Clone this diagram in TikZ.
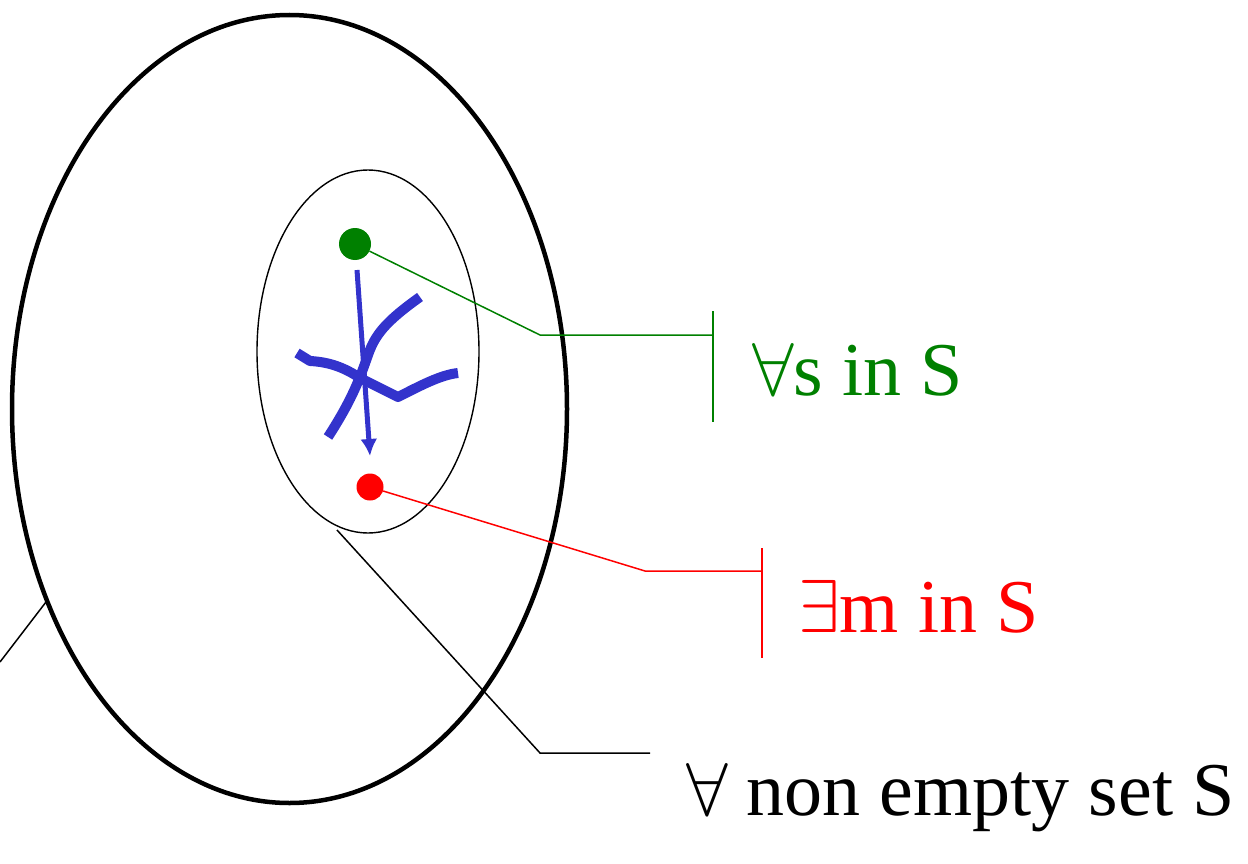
\documentclass[tikz,border=0pt]{standalone}
\usepackage{graphicx}
\usepackage{fontspec}
\setmainfont{Liberation Serif}
\usetikzlibrary{arrows.meta}
\definecolor{sgreen}{RGB}{0,128,0}
\definecolor{sblue}{RGB}{51,51,204}
\newcommand{\bigsym}[1]{\scalebox{7.5}{\normalsize$#1$}}
\tikzset{
  dot/.style={circle,inner sep=0pt,minimum size=#1},
  lbl/.style={anchor=base west,inner sep=0pt,font=\fontsize{76}{82}\selectfont},
  bluepath/.style={line width=10pt,sblue,line cap=butt,line join=round}
}
\begin{document}
\begin{tikzpicture}[x=1pt,y=-1pt]
                \useasboundingbox (0,0) rectangle (1248,864);
                \draw[line width=4.5pt] (289.5,409) coordinate(big) ellipse (277.5 and 394);
                \draw[line width=1.4pt] (368,351.5) coordinate(small) ellipse (111 and 181.5);
                \node[dot=32pt,fill=sgreen] (s) at (355,244) {};
                \node[dot=27pt,fill=red] (m) at (370,487) {};
                % blue paths
                \draw[bluepath] (420,297) .. controls (385,322) and (375,335) .. (368,355)
                    .. controls (360,378) and (352,400) .. (328,437);
                \draw[bluepath] (297,353) -- (310,361) .. controls (330,362) and (345,368) .. (360,378)
                    -- (398,397) .. controls (420,386) and (440,375) .. (458,373);
                \draw[-{Latex[length=17pt,width=17pt]},line width=5pt,sblue] (357,270) -- (370,456);
                % labels
                \draw[sgreen,line width=1.5pt] (s)--(540,335)--(713,335) coordinate(bs);
                \draw[sgreen,line width=1.5pt] (bs)++(0,-24)--++(0,111);
                \node[lbl,sgreen] (ls) at (752,395) {\bigsym{\forall}s in S};
                \draw[red,line width=1.5pt] (m)--(645,571)--(762,571) coordinate(bm);
                \draw[red,line width=1.5pt] (bm)++(0,-23)--++(0,110);
                \node[lbl,red] (lm) at (798,632) {\bigsym{\exists}m in S};
                \draw[line width=1.5pt] (337,530)--(540,753)--(650,753);
                \node[lbl] (lS) at (686,815) {\bigsym{\forall} non empty set S};
                \draw[line width=1.5pt] (46,602)--(0,662);
            \end{tikzpicture}
\end{document}
